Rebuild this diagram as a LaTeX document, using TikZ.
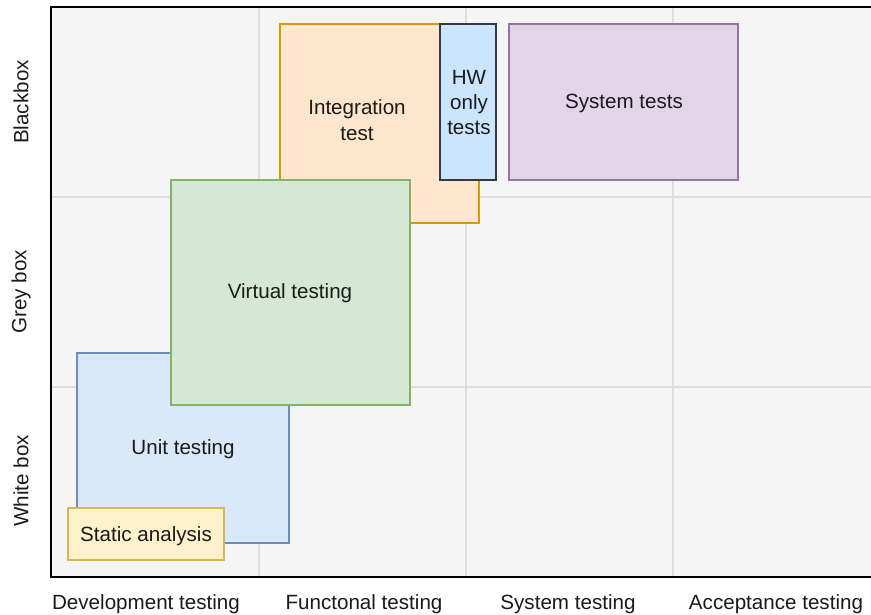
\documentclass[tikz,border=0pt]{standalone}
\usepackage{fontspec}
\setmainfont{Liberation Sans}
\definecolor{bgc}{HTML}{F5F5F5}
\definecolor{gridc}{HTML}{DDDDDD}
\definecolor{orF}{HTML}{FFE6CC}\definecolor{orD}{HTML}{D79B00}
\definecolor{hwF}{HTML}{CCE5FF}\definecolor{hwD}{HTML}{36393D}
\definecolor{puF}{HTML}{E1D5E7}\definecolor{puD}{HTML}{9673A6}
\definecolor{grF}{HTML}{D5E8D4}\definecolor{grD}{HTML}{82B366}
\definecolor{blF}{HTML}{DAE8FC}\definecolor{blD}{HTML}{6C8EBF}
\definecolor{yeF}{HTML}{FFF2CC}\definecolor{yeD}{HTML}{D6B656}
\definecolor{txt}{HTML}{1A1A1A}
\begin{document}
\begin{tikzpicture}[x=1pt,y=-1pt,
  box/.style={draw, line width=1.3pt, inner sep=0pt, outer sep=0pt, anchor=north west},
  lbl/.style={font=\fontsize{20.6}{25.5}\selectfont, align=center, inner sep=0pt, text=txt},
  gridline/.style={draw=gridc, line width=1.6pt},
  axis/.style={draw=black, line width=1.6pt}]
\useasboundingbox (0,0) rectangle (871,615);
% plot area
\fill[bgc] (51,7) rectangle (871,577);
\foreach \gx in {259,466,673} \draw[gridline] (\gx,7) -- (\gx,577);
\foreach \gy in {197,387} \draw[gridline] (51,\gy) -- (871,\gy);
\draw[axis] (871,7) -- (51,7) -- (51,577) -- (871,577);
% boxes
\node[box, fill=blF, draw=blD, minimum width=212pt, minimum height=190pt] (unit) at (77,353) {};
\node[box, fill=yeF, draw=yeD, minimum width=156pt, minimum height=52pt] (static) at (68,508) {};
\node[box, fill=orF, draw=orD, minimum width=199pt, minimum height=199pt] (integ) at (280,24) {};
\node[box, fill=hwF, draw=hwD, minimum width=56pt, minimum height=156pt] (hw) at (440,24) {};
\node[box, fill=puF, draw=puD, minimum width=229pt, minimum height=156pt] (sys) at (509,24) {};
\node[box, fill=grF, draw=grD, minimum width=239pt, minimum height=225pt] (virt) at (171,180) {};
% box labels
\node[lbl] (unitT) at (183,449) {Unit testing};
\node[lbl] (staticT) at (146,536) {Static analysis};
\node[lbl] (integT) at (357,120) {Integration\\test};
\node[lbl, font=\fontsize{20.6}{25}\selectfont] (hwT) at (469,103) {HW\\only\\tests};
\node[lbl] (sysT) at (624,103) {System tests};
\node[lbl] (virtT) at (290,293) {Virtual testing};
% axis labels
\node[lbl] (xa) at (146,604) {Development testing};
\node[lbl] (xb) at (364,604) {Functonal testing};
\node[lbl] (xc) at (568,604) {System testing};
\node[lbl] (xd) at (776,604) {Acceptance testing};
\node[lbl, rotate=90] (ya) at (21,102) {Blackbox};
\node[lbl, rotate=90] (yb) at (21,292) {Grey box};
\node[lbl, rotate=90] (yc) at (21,481) {White box};
\end{tikzpicture}
\end{document}
